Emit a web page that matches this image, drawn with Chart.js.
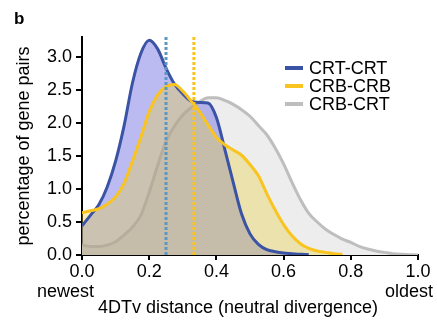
<!DOCTYPE html>
<html>
<head>
<meta charset="utf-8">
<script src="https://cdn.jsdelivr.net/npm/chart.js@4.4.1/dist/chart.umd.min.js"></script>
<style>
  html, body { margin: 0; padding: 0; background: #fff; }
  #wrap { width: 437px; height: 327px; }
</style>
</head>
<body>
<div id="wrap"><canvas id="density"></canvas></div>
<script>
// 4DTv distance grid and density (% of gene pairs)
const distance = [0, 0.025, 0.05, 0.075, 0.1, 0.125, 0.15, 0.175, 0.2, 0.225,
  0.25, 0.275, 0.3, 0.325, 0.35, 0.375, 0.4, 0.425, 0.45, 0.475,
  0.5, 0.525, 0.55, 0.575, 0.6, 0.625, 0.65, 0.675, 0.7, 0.725,
  0.75, 0.775, 0.8, 0.825, 0.85, 0.875, 0.9, 0.925, 0.95, 0.975, 1.0];
const crtCrt = [0.44, 0.60, 0.76, 1.03, 1.42, 1.95, 2.60, 3.05, 3.25, 3.12,
  2.83, 2.59, 2.44, 2.33, 2.31, 2.30, 2.08, 1.60, 1.10, 0.62,
  0.32, 0.16, 0.08, 0.05, 0.03, 0.02, 0.01, 0.005, null, null,
  null, null, null, null, null, null, null, null, null, null, null];
const crbCrb = [0.64, 0.67, 0.70, 0.77, 0.88, 1.08, 1.42, 1.78, 2.17, 2.42,
  2.55, 2.58, 2.48, 2.33, 2.17, 1.97, 1.78, 1.67, 1.59, 1.51,
  1.37, 1.20, 0.93, 0.68, 0.46, 0.29, 0.17, 0.10, 0.06, 0.04,
  0.02, 0.01, null, null, null, null, null, null, null, null, null];
const crbCrt = [0.15, 0.13, 0.13, 0.15, 0.20, 0.30, 0.42, 0.60, 0.95, 1.35,
  1.72, 1.95, 2.12, 2.23, 2.32, 2.38, 2.38, 2.34, 2.28, 2.20,
  2.10, 1.96, 1.82, 1.62, 1.38, 1.10, 0.84, 0.63, 0.50, 0.39,
  0.31, 0.24, 0.19, 0.13, 0.09, 0.06, 0.04, 0.02, 0.01, 0.005, 0];
const seriesNames = ["CRT-CRT", "CRB-CRB", "CRB-CRT"];
const medianCrt = 0.25;
const medianCrb = 0.333;
const endLabels = ["newest", "oldest"];
const xTitle = "4DTv distance (neutral divergence)";
const yTitle = "percentage of gene pairs";

const FONT = "'Liberation Sans', Arial, sans-serif";
const blue = "#3b53a4", yellow = "#f9c41f", grey = "#bebebe";

const pts = (ys) => distance.map((d, i) => ({ x: d, y: ys[i] }));
const vline = (v) => [{ x: v, y: 0 }, { x: v, y: 3.3 }];

const annotate = {
  id: "annotate",
  afterDraw(chart) {
    const ctx = chart.ctx;
    const xs = chart.scales.x;
    ctx.save();
    ctx.fillStyle = "#000";
    ctx.font = "bold 17px " + FONT;
    ctx.textBaseline = "alphabetic";
    ctx.textAlign = "left";
    ctx.fillText("b", 14, 24);
    ctx.font = "18px " + FONT;
    ctx.textAlign = "right";
    ctx.fillText(endLabels[0], xs.getPixelForValue(0) + 12, 297);
    ctx.textAlign = "left";
    ctx.fillText(endLabels[1], xs.getPixelForValue(1) - 33, 297);
    ctx.textAlign = "center";
    ctx.fillText(xTitle, 238, 313);
    // legend
    const cols = [blue, yellow, grey];
    ctx.textAlign = "left";
    ctx.textBaseline = "middle";
    seriesNames.forEach((n, i) => {
      const y = 68 + i * 18;
      ctx.strokeStyle = cols[i];
      ctx.lineWidth = 4;
      ctx.beginPath();
      ctx.moveTo(285, y);
      ctx.lineTo(303, y);
      ctx.stroke();
      ctx.fillText(n, 309, y + 1);
    });
    ctx.restore();
  }
};

new Chart("density", {
  type: "line",
  data: {
    datasets: [
      { data: pts(crbCrt), borderColor: grey, borderWidth: 3, backgroundColor: "#ededed", fill: "origin", order: 6 },
      { data: pts(crtCrt), borderWidth: 0, backgroundColor: "rgba(120,120,230,0.5)", fill: "origin", order: 5 },
      { data: pts(crbCrb), borderWidth: 0, backgroundColor: "rgba(232,206,55,0.35)", fill: "origin", order: 4 },
      { data: pts(crtCrt), borderColor: blue, borderWidth: 3, fill: false, order: 3 },
      { data: pts(crbCrb), borderColor: yellow, borderWidth: 3, fill: false, order: 2 },
      { data: vline(medianCrt), borderColor: "#5b97c4", borderWidth: 3, borderDash: [3, 2], fill: false, order: 1, cubicInterpolationMode: "default", tension: 0 },
      { data: vline(medianCrb), borderColor: "#f9c41f", borderWidth: 3, borderDash: [3, 2], fill: false, order: 0, cubicInterpolationMode: "default", tension: 0 }
    ]
  },
  options: {
    responsive: true,
    maintainAspectRatio: false,
    animation: false,
    layout: { padding: { top: 37, right: 19, left: 0, bottom: 0 } },
    elements: {
      point: { radius: 0 },
      line: { cubicInterpolationMode: "monotone" }
    },
    plugins: { legend: { display: false }, tooltip: { enabled: false } },
    scales: {
      x: {
        type: "linear", min: 0, max: 1,
        border: { color: "#000", width: 2 },
        grid: { drawOnChartArea: false, color: "#000", lineWidth: 2, tickLength: 5 },
        ticks: { stepSize: 0.2, color: "#000", padding: 1, font: { size: 18, family: FONT }, callback: (v) => v.toFixed(1) },
        afterFit: (s) => { s.height = 72; }
      },
      y: {
        min: 0, max: 3.3,
        border: { color: "#000", width: 2 },
        grid: { drawOnChartArea: false, color: "#000", lineWidth: 2, tickLength: 6 },
        ticks: { stepSize: 0.5, includeBounds: false, color: "#000", padding: 4, font: { size: 18, family: FONT }, callback: (v) => v.toFixed(1) },
        title: { display: true, text: yTitle, color: "#000", font: { size: 18, family: FONT }, padding: { top: 13, bottom: 0 } },
        afterFit: (s) => { s.width = 82; }
      }
    }
  },
  plugins: [annotate]
});
</script>
</body>
</html>
